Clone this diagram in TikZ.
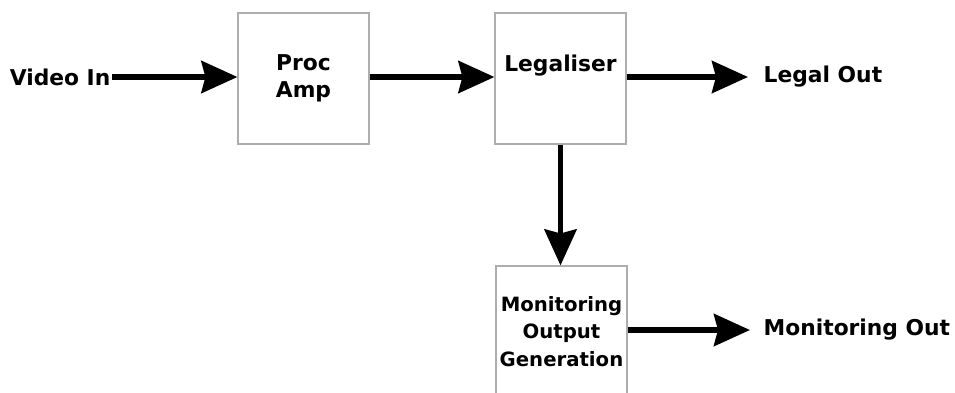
\documentclass[tikz,border=0pt]{standalone}
\usepackage{fontspec}
\setmainfont{DejaVu Sans}
\usetikzlibrary{arrows.meta}

\tikzset{
  blockbox/.style={draw=black!32,line width=0.8pt,minimum size=3.275cm,inner sep=0pt,align=center},
  sigtext/.style={inner sep=1pt},
  sigarrow/.style={-{Stealth[length=0.9cm,width=0.8cm,inset=0.1cm]},line width=4pt}
}

\begin{document}
\begin{tikzpicture}[font=\fontsize{15.5}{19.5}\selectfont\bfseries]
            \useasboundingbox (0,0) rectangle (23.875,9.8);
            \node[blockbox] (procamp) at (7.5875,7.8375) {Proc\\Amp};
            \node[blockbox,label={[anchor=north,yshift=-0.95cm]north:Legaliser}] (legaliser) at (14.0125,7.8375) {};
            \node[blockbox,font=\fontsize{14}{19.5}\selectfont\bfseries] (monitor) at (14.0375,1.5125) {Monitoring\\Output\\Generation};
            \node[sigtext,anchor=east] (videoin) at (2.8,7.875) {Video In};
            \node[sigtext,anchor=west] (legalout) at (19.05,7.875) {Legal Out};
            \node[sigtext,anchor=west] (monout) at (19.05,1.55) {Monitoring Out};
            \draw[sigarrow] (videoin.east) -- (procamp.west |- videoin.east);
            \draw[sigarrow] (procamp.east |- videoin.east) -- (legaliser.west |- videoin.east);
            \draw[sigarrow,shorten >=0.35cm] (legaliser.east |- legalout.west) -- (legalout.west);
            \draw[sigarrow] (legaliser.south) -- (legaliser.south |- monitor.north);
            \draw[sigarrow,shorten >=0.3cm] (monitor.east |- monout.west) -- (monout.west);
        \end{tikzpicture}
\end{document}
